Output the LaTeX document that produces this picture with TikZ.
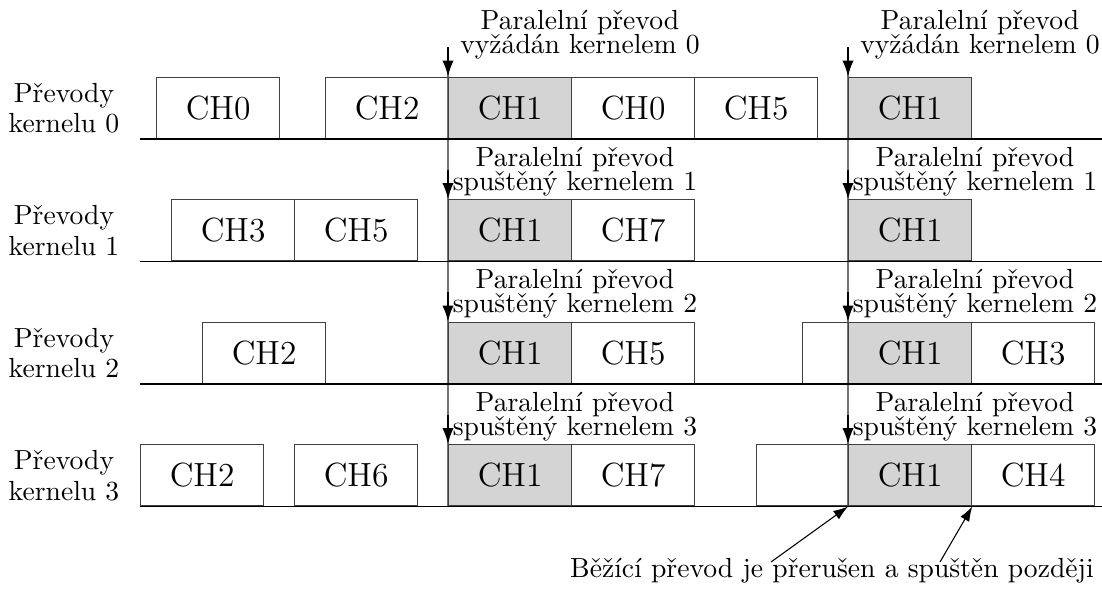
\documentclass[tikz,border=0pt]{standalone}
\usepackage{fontspec}
\usepackage{tikz}
\usetikzlibrary{arrows.meta,calc}
\definecolor{parfill}{HTML}{D4D4D4}
\definecolor{slotline}{HTML}{404040}
\tikzset{
  lane/.style={line width=0.6pt},
  slot/.style={draw=slotline,line width=0.45pt,anchor=south west,inner sep=0pt,
    minimum width=45.9pt,minimum height=22.76pt,font=\fontsize{12.5pt}{14pt}\selectfont},
  parslot/.style={slot,fill=parfill},
  gap/.style={draw=slotline,line width=0.45pt,anchor=south west,inner sep=0pt,minimum height=22.76pt},
  par/.style={-{Latex[length=6pt,width=4.2pt]},line width=0.75pt},
  hint/.style={-{Latex[length=5.5pt,width=3.8pt]},line width=0.4pt},
  guide/.style={black!55,line width=0.5pt},
  rowlabel/.style={align=center,font=\fontsize{10.3pt}{11.4pt}\selectfont},
  note/.style={align=center,anchor=south,inner sep=1.5pt,
    font={\fontsize{10.3pt}{9pt}\selectfont\lineskiplimit=-10pt}}
}

\begin{document}
\begin{tikzpicture}[x=0.013114cm,y=-0.013114cm]
\useasboundingbox (0,0) rectangle (1102,592);
% parallel transfer guides
\foreach \c/\x in {a/448,b/848}{
  \coordinate (top\c) at (\x,47);
  \coordinate (bot\c) at (\x,506.5);
  \draw[guide] (top\c) -- (bot\c);
}
% ordinary transfers
\foreach \r/\x/\ch/\n in {0/156/CH0/a,0/325/CH2/b,0/571/CH0/c,0/694/CH5/d,
  1/171/CH3/a,1/294/CH5/b,1/571/CH7/c,
  2/202/CH2/a,2/571/CH5/c,2/971/CH3/e,
  3/140/CH2/a,3/294/CH6/b,3/571/CH7/c,3/971/CH4/e}{
  \node[slot] (s\r\n) at (\x,{139+122.5*\r}) {\ch};
}
\node[gap,minimum width=17.16pt] (w2) at (802,384) {};
\node[gap,minimum width=34.33pt] (w3) at (756,506.5) {};
% rows
\foreach \r in {0,...,3}{
  \pgfmathsetmacro{\base}{139+122.5*\r}
  \node[parslot] (pa\r) at (448,\base) {CH1};
  \node[parslot] (pb\r) at (848,\base) {CH1};
  \coordinate (l\r) at (140,\base);
  \coordinate (r\r) at (1102,\base);
  \draw[lane] (l\r) -- (r\r);
  \node[rowlabel] (lab\r) at (64,\base-31) {Převody\\kernelu \r};
}
% requests
\foreach \r in {1,2,3}{
  \pgfmathsetmacro{\top}{139+122.5*\r-61}
  \coordinate (qa\r) at (448,\top-31);
  \coordinate (qb\r) at (848,\top-31);
  \draw[par] (qa\r) -- (pa\r.north west);
  \draw[par] (qb\r) -- (pb\r.north west);
  \node[note] (ta\r) at (575,\top) {Paralelní převod\\spuštěný kernelem \r};
  \node[note] (tb\r) at (975,\top) {Paralelní převod\\spuštěný kernelem \r};
}
\draw[par] (topa) -- (pa0.north west);
\draw[par] (topb) -- (pb0.north west);
\node[note] (ta0) at (580,64) {Paralelní převod\\vyžádán kernelem 0};
\node[note] (tb0) at (980,64) {Paralelní převod\\vyžádán kernelem 0};
% interrupted transfer
\node[anchor=base,font=\fontsize{10.3pt}{12pt}\selectfont] (late) at (832,577) {Běžící převod je přerušen a spuštěn později};
\coordinate (h1) at (771,562);
\coordinate (h2) at (940,562);
\draw[hint] (h1) -- (pb3.south west);
\draw[hint] (h2) -- (pb3.south east);
\end{tikzpicture}
\end{document}
